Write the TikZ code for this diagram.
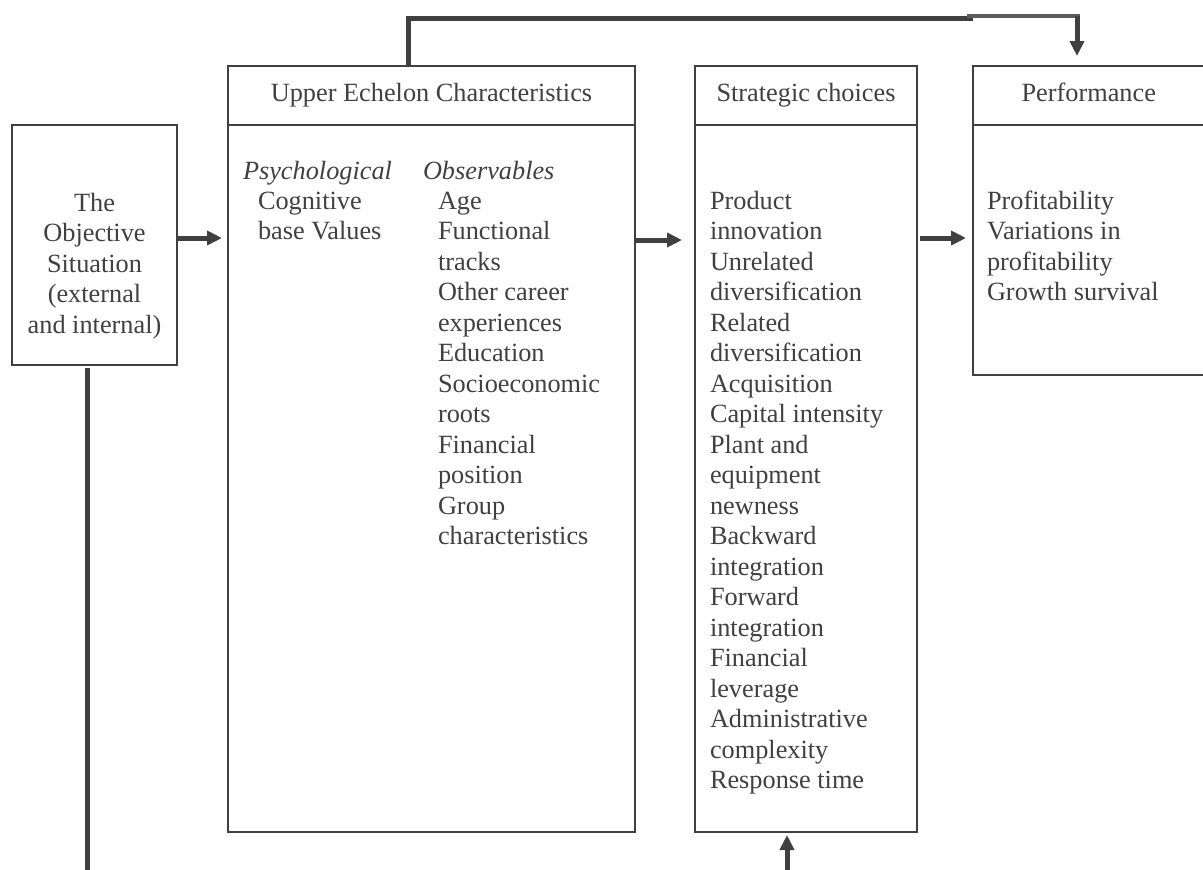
\documentclass[tikz,border=0pt]{standalone}
\usepackage{fontspec}
\setmainfont{Liberation Serif}
\usetikzlibrary{arrows.meta,calc}
\definecolor{ink}{HTML}{404040}
\definecolor{inkl}{HTML}{5C5C5C}
\newcommand\bodyfont{\fontsize{26.3pt}{30.5pt}\selectfont}
\begin{document}
\begin{tikzpicture}[x=1pt,y=-1pt,
  box/.style={draw=ink,line width=2.3pt,inner sep=0pt,outer sep=0pt,anchor=north west},
  hdr/.style={box,text=ink,font=\bodyfont,text height=17.4pt,text depth=5.7pt},
  txt/.style={text=ink,inner sep=0pt,outer sep=0pt,font=\bodyfont,align=left},
  conn/.style={draw=ink,line width=5pt},
  arr/.style={conn,-{Triangle[length=15pt,width=14pt]}}]
\useasboundingbox (0,0) rectangle (1203,870);

% boxes
\node[box,minimum width=165pt,minimum height=240pt] (obj) at (12,125) {};
\node[hdr,minimum width=407pt,minimum height=59pt] (uech) at (228,66) {Upper Echelon Characteristics};
\node[box,minimum width=407pt,minimum height=707pt] (uecb) at (228,125) {};
\node[hdr,minimum width=222pt,minimum height=59pt] (sch) at (695,66) {Strategic choices};
\node[box,minimum width=222pt,minimum height=707pt] (scb) at (695,125) {};
\node[hdr,minimum width=231.5pt,minimum height=59pt] (perfh) at (973,66) {Performance};
\node[box,minimum width=231.5pt,minimum height=250pt] (perfb) at (973,125) {};

% texts
\node[txt,align=center,anchor=north] (objt) at (94.5,189.65)
  {\strut The\\Objective\\Situation\\(external\\and internal)};
\node[txt,anchor=base west] (psyt) at (243,179) {\textit{Psychological}};
\node[txt,anchor=north west] (psyl) at (258,187.65) {\strut Cognitive\\base Values};
\node[txt,anchor=base west] (obst) at (423,179) {\textit{Observables}};
\node[txt,anchor=north west] (obsl) at (438,187.65)
  {\strut Age\\Functional\\tracks\\Other career\\experiences\\Education\\Socioeconomic\\roots\\Financial\\position\\Group\\characteristics};
\node[txt,anchor=north west] (scl) at (710,187.65)
  {\strut Product\\innovation\\Unrelated\\diversification\\Related\\diversification\\Acquisition\\Capital intensity\\Plant and\\equipment\\newness\\Backward\\integration\\Forward\\integration\\Financial\\leverage\\Administrative\\complexity\\Response time};
\node[txt,anchor=north west] (perfl) at (987,187.65)
  {\strut Profitability\\Variations in\\profitability\\Growth survival};

% connectors
\draw[arr,shorten >=6pt] ([yshift=7pt]obj.east) -- ([yshift=7pt]obj.east -| uecb.west);
\coordinate (a2) at ($(uecb.north east)+(1,115)$);
\draw[arr,shorten >=13pt] (a2) -- (a2 -| scb.west);
\coordinate (a3) at ($(scb.north east)+(3,113)$);
\draw[arr,shorten >=7pt] (a3) -- (a3 -| perfb.west);

\coordinate (b1) at (87,870);
\draw[conn,shorten >=2.5pt] (b1) -- (b1 |- obj.south);
\coordinate (b2) at (787,870);
\draw[arr,shorten >=3pt] (b2) -- (b2 |- scb.south);

\coordinate (t1) at (408,18.5);
\coordinate (t2) at (1077,16);
\draw[conn] (t1 |- uech.north) -- (t1) -- (t1 -| perfh.west);
\draw[conn,draw=inkl,line width=4.5pt] ($(t1 -| perfh.west)+(-6,-2.5)$) -- ($(t2)+(2.5,0)$);
\draw[arr,shorten >=10pt] (t2) -- (t2 |- perfh.north);
\end{tikzpicture}
\end{document}
